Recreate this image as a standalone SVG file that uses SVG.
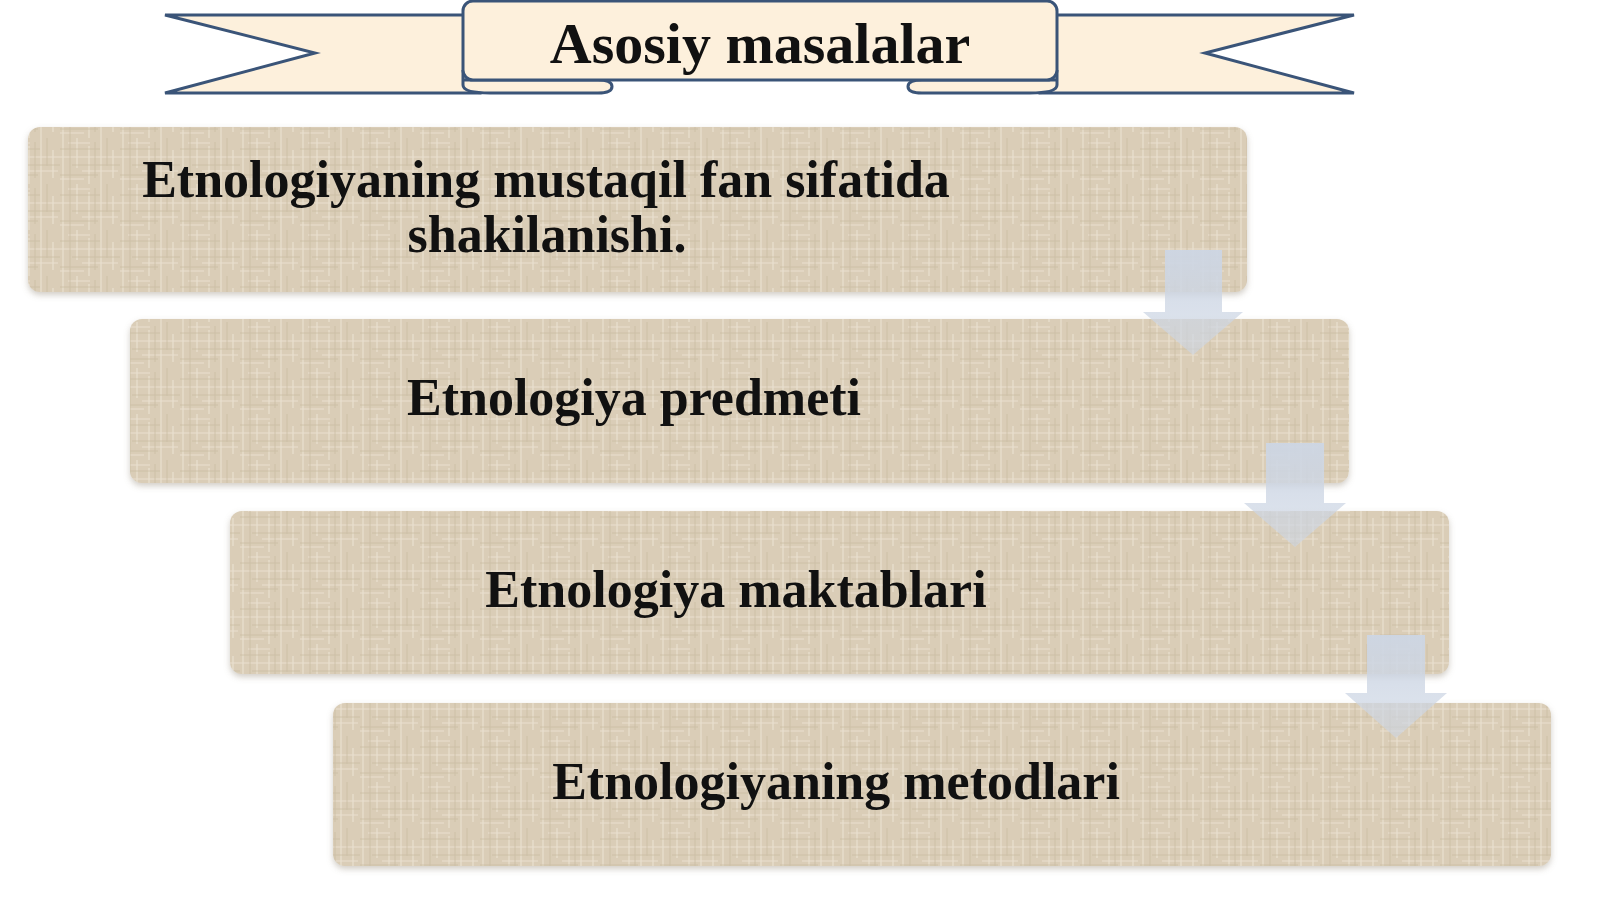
<svg xmlns="http://www.w3.org/2000/svg" width="1600" height="899" viewBox="0 0 1600 899">
<defs>
<style>
.rib{fill:#fdf0dc;stroke:#3a5478;stroke-width:3;stroke-linejoin:miter}
.box{fill:url(#linen);filter:url(#sh)}
.t{font-family:"Liberation Serif","Times New Roman",serif;font-weight:bold;fill:#111;text-anchor:middle}
.arr{fill:url(#ag)}
</style>
<pattern id="linen" width="60" height="46" patternUnits="userSpaceOnUse">
<rect width="60" height="46" fill="#dacdb7"/>
<path d="M3 0V46M17 0V30M29 8V46M41 0V46M53 12V40M8 5H30M0 19H60M22 33H58M0 41H24" stroke="#ebe3d3" stroke-width="1.2" opacity="0.85"/>
<path d="M10 0V46M35 4V40M47 0V28M0 11H40M12 27H60M0 37H38" stroke="#c8b99f" stroke-width="1" opacity="0.7"/>
</pattern>
<filter id="sh" x="-5%" y="-10%" width="110%" height="125%">
<feDropShadow dx="0" dy="3" stdDeviation="3" flood-color="#9a9080" flood-opacity="0.45"/>
</filter>
<linearGradient id="ag" x1="0" y1="0" x2="0" y2="1">
<stop offset="0" stop-color="#cdd6e4" stop-opacity="0.95"/>
<stop offset="1" stop-color="#cdd6e4" stop-opacity="0.6"/>
</linearGradient>
</defs>
<rect width="1600" height="899" fill="#ffffff"/>
<g id="title">
<path class="rib" d="M165,15 L480,15 L480,93 L165,93 L315,53 Z"/>
<path class="rib" d="M1354,15 L1040,15 L1040,93 L1354,93 L1205,53 Z"/>
<path class="rib" d="M463,70 V85 Q463,93 490,93 H598 Q612,93 612,86.5 Q612,80 598,80 H463"/>
<path class="rib" d="M1057,70 V85 Q1057,93 1030,93 H922 Q908,93 908,86.5 Q908,80 922,80 H1057"/>
<rect class="rib" x="463" y="1" width="594" height="79" rx="10"/>
<text class="t" x="760" y="63" font-size="58">Asosiy masalalar</text>
</g>
<g id="node1">
<rect class="box" x="28" y="127" width="1219" height="165" rx="12"/>
<text class="t" x="546" y="197" font-size="52">Etnologiyaning mustaqil fan sifatida</text>
<text class="t" x="547" y="252" font-size="52">shakilanishi.</text>
</g>
<g id="node2">
<rect class="box" x="130" y="319" width="1219" height="164" rx="12"/>
<text class="t" x="634" y="415" font-size="52">Etnologiya predmeti</text>
</g>
<g id="node3">
<rect class="box" x="230" y="511" width="1219" height="163" rx="12"/>
<text class="t" x="736" y="607" font-size="52">Etnologiya maktablari</text>
</g>
<g id="node4">
<rect class="box" x="333" y="703" width="1218" height="163" rx="12"/>
<text class="t" x="836" y="799" font-size="52">Etnologiyaning metodlari</text>
</g>
<g id="connectors">
<path class="arr" d="M1165,250 H1222 V312 H1243 L1193,355 L1143,312 H1165 Z"/>
<path class="arr" d="M1266,443 H1324 V503 H1346 L1295,547 L1244,503 H1266 Z"/>
<path class="arr" d="M1367,635 H1425 V693 H1447 L1396,738 L1345,693 H1367 Z"/>
</g>
</svg>
